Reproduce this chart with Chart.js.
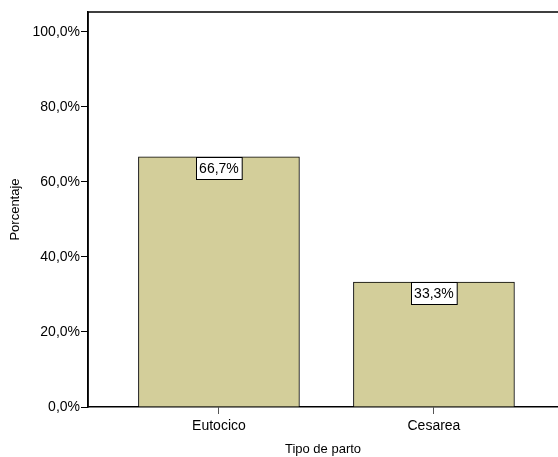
<!DOCTYPE html>
<html>
<head>
<meta charset="utf-8">
<script src="https://cdn.jsdelivr.net/npm/chart.js@4/dist/chart.umd.min.js"></script>
<style>
  html, body { margin: 0; padding: 0; background: #fff; }
  canvas { display: block; }
</style>
</head>
<body>
<canvas id="chart" width="558" height="457"></canvas>
<script>
const categories = ['Eutocico', 'Cesarea'];
const percentages = [66.7, 33.3];
const yTicks = [0, 20, 40, 60, 80, 100];

const FONT = '"Liberation Sans", Arial, sans-serif';

function formatPct(v) {
    return v.toFixed(1).replace('.', ',') + '%';
}

// frame lines on top and left of the plot, like the original
const framePlugin = {
    id: 'frame',
    afterDraw(chart) {
        const { ctx, chartArea } = chart;
        ctx.save();
        ctx.strokeStyle = '#000';
        ctx.lineWidth = 1.5;
        ctx.beginPath();
        ctx.moveTo(chartArea.left, chartArea.bottom);
        ctx.lineTo(chartArea.left, chartArea.top);
        ctx.lineTo(chartArea.right, chartArea.top);
        ctx.stroke();
        ctx.restore();
    }
};

// boxed value labels hanging from the top of each bar
const boxLabelPlugin = {
    id: 'boxLabels',
    afterDatasetsDraw(chart) {
        const { ctx } = chart;
        const meta = chart.getDatasetMeta(0);
        ctx.save();
        ctx.font = '14px ' + FONT;
        ctx.textAlign = 'center';
        ctx.textBaseline = 'middle';
        meta.data.forEach((bar, i) => {
            const text = formatPct(percentages[i]);
            const w = ctx.measureText(text).width + 6;
            const h = 22;
            const x = Math.round(bar.x - w / 2) + 0.5;
            const y = Math.round(bar.y) + 0.5;
            ctx.fillStyle = '#fff';
            ctx.fillRect(x, y, w, h);
            ctx.strokeStyle = '#000';
            ctx.lineWidth = 1;
            ctx.strokeRect(x, y, w, h);
            ctx.fillStyle = '#000';
            ctx.fillText(text, bar.x, y + h / 2 + 1);
        });
        ctx.restore();
    }
};

const ctx = document.getElementById('chart').getContext('2d');
new Chart(ctx, {
    type: 'bar',
    data: {
        datasets: [{
            data: percentages.map((v, i) => ({ x: i + 1, y: v })),
            backgroundColor: '#d3ce9a',
            borderColor: '#000',
            borderWidth: 1,
            borderSkipped: 'bottom',
            barThickness: 161
        }]
    },
    options: {
        responsive: false,
        animation: false,
        layout: { padding: { top: 12, right: 0, bottom: 0, left: 0 } },
        plugins: {
            legend: { display: false },
            tooltip: { enabled: false }
        },
        scales: {
            x: {
                type: 'linear',
                offset: false,
                min: 0.391,
                max: 2.577,
                afterBuildTicks: (axis) => {
                    axis.ticks = categories.map((_, i) => ({ value: i + 1 }));
                },
                afterFit: (axis) => { axis.height = 50; },
                ticks: {
                    color: '#000',
                    font: { family: FONT, size: 14 },
                    padding: 4,
                    maxRotation: 0,
                    callback: (v) => categories[v - 1] || ''
                },
                grid: {
                    offset: false,
                    drawOnChartArea: false,
                    tickLength: 7,
                    color: '#000',
                    tickColor: '#555'
                },
                border: { color: '#000', width: 1.5 },
                title: {
                    display: true,
                    text: 'Tipo de parto',
                    color: '#000',
                    font: { family: FONT, size: 13 },
                    padding: { top: 2, bottom: 0 }
                }
            },
            y: {
                min: 0,
                max: 105.3,
                afterBuildTicks: (axis) => {
                    axis.ticks = yTicks.map(v => ({ value: v }));
                },
                afterFit: (axis) => { axis.width = 88; },
                ticks: {
                    color: '#000',
                    font: { family: FONT, size: 14 },
                    padding: 1,
                    callback: (v) => formatPct(v)
                },
                grid: {
                    drawOnChartArea: false,
                    tickLength: 7,
                    color: '#000',
                    tickColor: '#000'
                },
                border: { color: '#000', width: 1.5 },
                title: {
                    display: true,
                    text: 'Porcentaje',
                    color: '#000',
                    font: { family: FONT, size: 13 },
                    padding: { top: 8, bottom: 0 }
                }
            }
        }
    },
    plugins: [framePlugin, boxLabelPlugin]
});
</script>
</body>
</html>
